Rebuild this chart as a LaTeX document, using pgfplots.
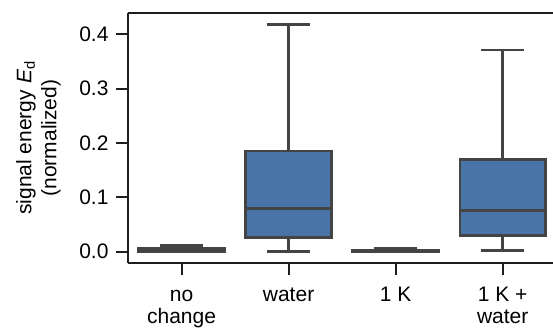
\documentclass[border=0pt]{standalone}
\usepackage{fontspec}
\setmainfont{Liberation Sans}
\usepackage{pgfplots}
\pgfplotsset{compat=1.18}
\definecolor{boxblue}{RGB}{72,116,168}
\definecolor{boxgray}{RGB}{68,68,68}
\definecolor{spine}{RGB}{30,30,30}
\newcommand{\fz}{\fontsize{21}{25}\selectfont}
\newcommand{\fx}{\fontsize{21}{22}\selectfont}
\pgfplotsset{every axis/.append style={font=\fz}}
\begin{document}
\begin{tikzpicture}[font=\fz]
\useasboundingbox (-128pt,-64pt) rectangle (425pt,263pt);
\begin{axis}[
  scale only axis,
  width=425pt, height=250pt,
  xmin=-0.5, xmax=3.47,
  ymin=-0.0208, ymax=0.439,
  axis x line*=box, axis y line*=left,
  xtick pos=left, ytick pos=left,
  axis line style={spine, line width=2pt},
  major tick style={spine, line width=2pt},
  tick align=outside,
  major tick length=12pt,
  tick label style={font=\fz},
  label style={font=\fz},
  xtick={0,1,2,3},
  xticklabels={{\strut no\\change}, \strut water, \strut 1 K, {\strut 1 K +\\water}},
  xticklabel style={align=center, font=\fx, anchor=north, yshift=-8pt},
  ytick={0,0.1,0.2,0.3,0.4},
  yticklabel style={/pgf/number format/fixed, /pgf/number format/fixed zerofill, /pgf/number format/precision=1, xshift=-4pt},
  /pgf/number format/assume math mode=true,
  ylabel={signal energy {\itshape E}\textsubscript{d}\\(normalized)},
  ylabel style={at={(axis description cs:-0.150,0.5)}, anchor=south, align=center},
  box/.style={fill=boxblue, draw=boxgray, line width=2.7pt},
  wh/.style={draw=boxgray, line width=2.7pt, line cap=butt},
]
% no change
\addplot[wh] coordinates {(0,0.0) (0,0.012)};
\addplot[wh] coordinates {(-0.2,0.0) (0.2,0.0)};
\addplot[wh] coordinates {(-0.2,0.012) (0.2,0.012)};
\addplot[box] coordinates {(-0.4,0.001) (0.4,0.001) (0.4,0.006) (-0.4,0.006)} -- cycle;
\addplot[wh] coordinates {(-0.4,0.003) (0.4,0.003)};
% water
\addplot[wh] coordinates {(1,0.0) (1,0.418)};
\addplot[wh] coordinates {(0.8,0.0) (1.2,0.0)};
\addplot[wh] coordinates {(0.8,0.418) (1.2,0.418)};
\addplot[box] coordinates {(0.6,0.0265) (1.4,0.0265) (1.4,0.185) (0.6,0.185)} -- cycle;
\addplot[wh] coordinates {(0.6,0.080) (1.4,0.080)};
% 1 K
\addplot[wh] coordinates {(2,0.0) (2,0.006)};
\addplot[wh] coordinates {(1.8,0.0) (2.2,0.0)};
\addplot[wh] coordinates {(1.8,0.006) (2.2,0.006)};
\addplot[box] coordinates {(1.6,0.0) (2.4,0.0) (2.4,0.002) (1.6,0.002)} -- cycle;
\addplot[wh] coordinates {(1.6,0.001) (2.4,0.001)};
% 1 K + water
\addplot[wh] coordinates {(3,0.002) (3,0.371)};
\addplot[wh] coordinates {(2.8,0.002) (3.2,0.002)};
\addplot[wh] coordinates {(2.8,0.371) (3.2,0.371)};
\addplot[box] coordinates {(2.6,0.030) (3.4,0.030) (3.4,0.169) (2.6,0.169)} -- cycle;
\addplot[wh] coordinates {(2.6,0.0755) (3.4,0.0755)};
\end{axis}
\end{tikzpicture}
\end{document}
